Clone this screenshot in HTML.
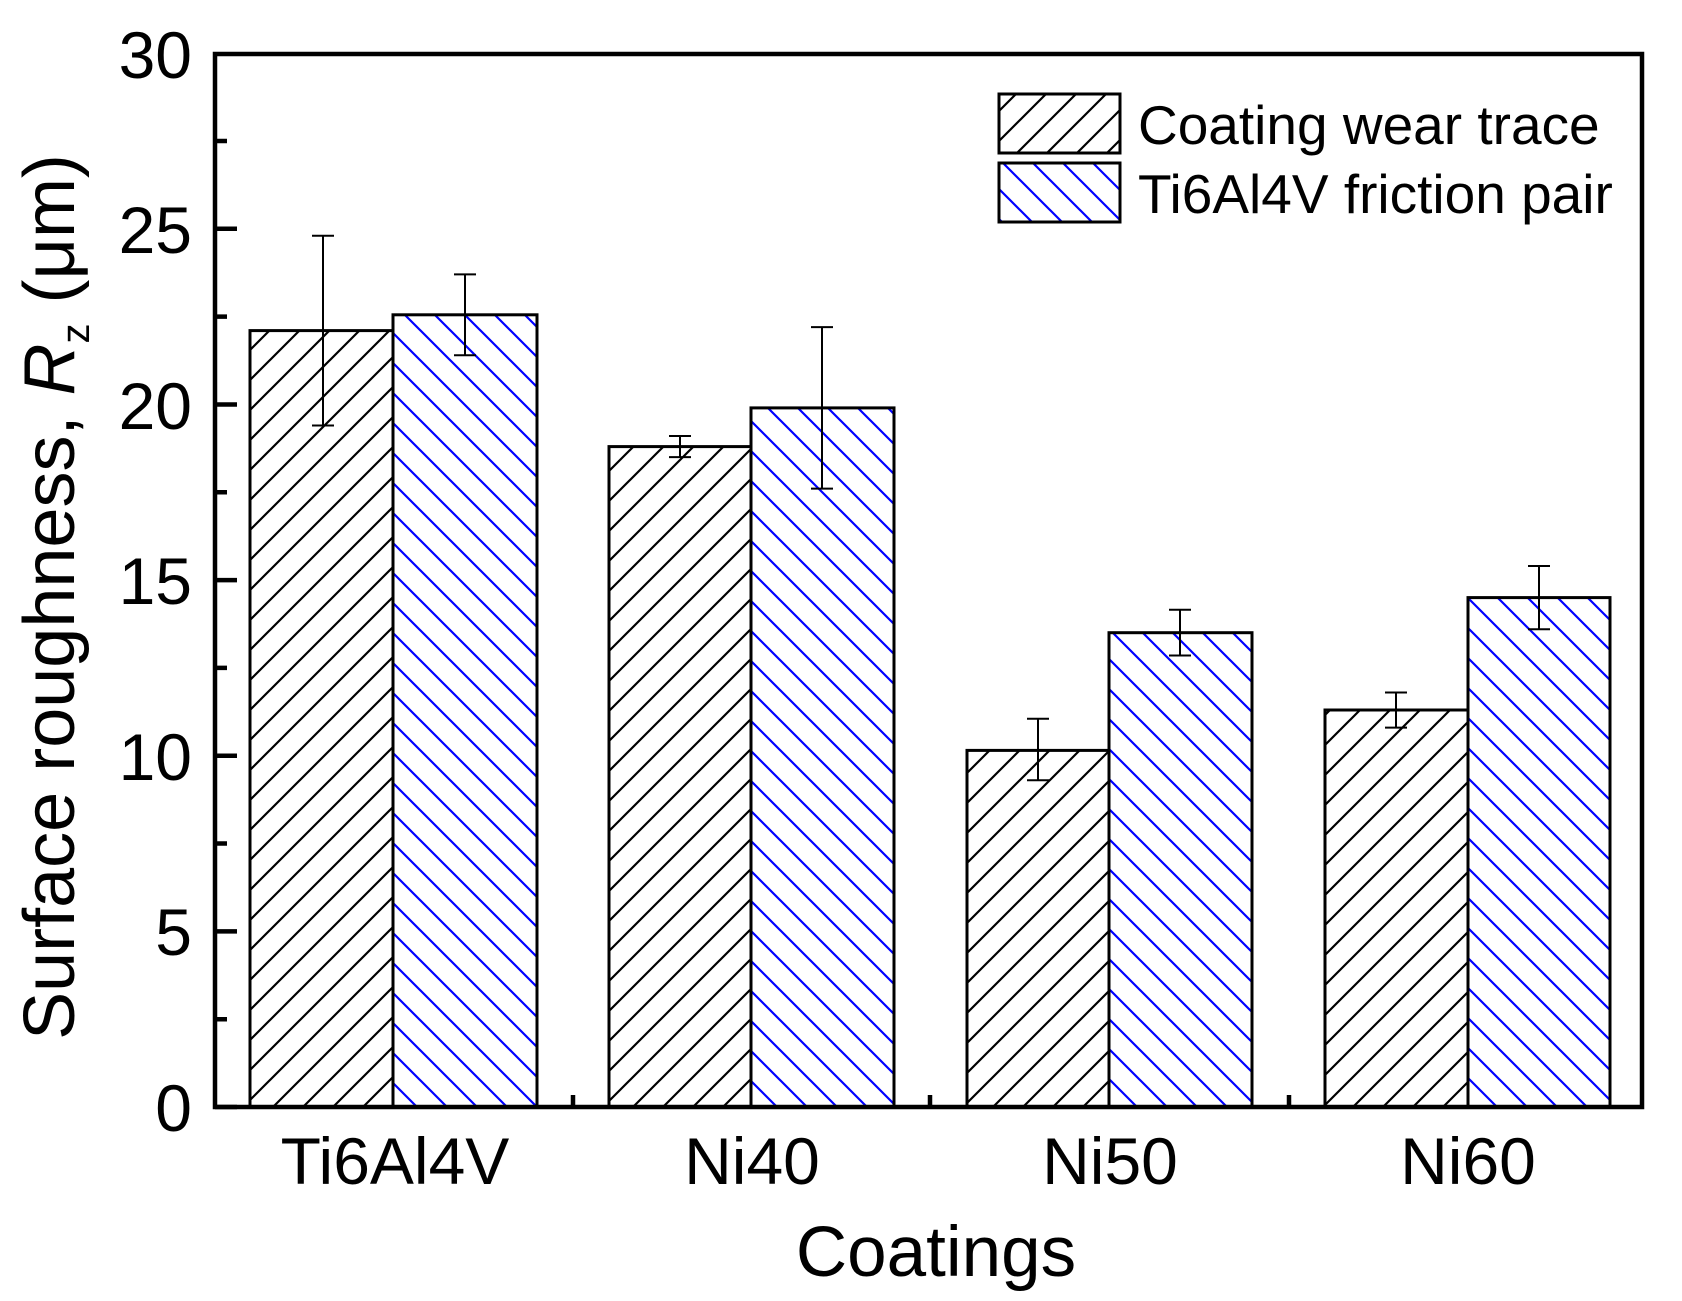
<!DOCTYPE html>
<html><head><meta charset="utf-8"><style>
body{margin:0;background:#fff}
svg{display:block}
text{font-family:"Liberation Sans",Arial,sans-serif;fill:#000}
</style></head><body>
<svg width="1682" height="1301" viewBox="0 0 1682 1301" xmlns="http://www.w3.org/2000/svg">
<defs>
<pattern id="pb" patternUnits="userSpaceOnUse" width="30" height="30">
<path d="M-5,35 L35,-5 M-5,5 L5,-5 M25,35 L35,25" stroke="#000" stroke-width="2.2"/>
</pattern>
<pattern id="pu" patternUnits="userSpaceOnUse" width="30" height="30">
<path d="M-5,-5 L35,35 M25,-5 L35,5 M-5,25 L5,35" stroke="#0000ff" stroke-width="2.2"/>
</pattern>
</defs>
<g stroke="#000" stroke-width="3">
<rect x="250" y="330.6" width="143" height="776.4" fill="url(#pb)"/>
<rect x="393" y="314.8" width="144" height="792.2" fill="url(#pu)"/>
<rect x="609" y="446.6" width="142" height="660.4" fill="url(#pb)"/>
<rect x="751" y="407.9" width="143" height="699.1" fill="url(#pu)"/>
<rect x="967" y="750.4" width="142" height="356.6" fill="url(#pb)"/>
<rect x="1109" y="632.7" width="143" height="474.3" fill="url(#pu)"/>
<rect x="1325" y="710.0" width="143" height="397" fill="url(#pb)"/>
<rect x="1468" y="597.6" width="142" height="509.4" fill="url(#pu)"/>
</g>
<g stroke="#000" stroke-width="2" fill="none">
<path d="M323,235.8V425.5M312,235.8h22M312,425.5h22"/>
<path d="M465,274.4V355.2M454,274.4h22M454,355.2h22"/>
<path d="M680,436.0V457.1M669,436.0h22M669,457.1h22"/>
<path d="M822,327.1V488.6M811,327.1h22M811,488.6h22"/>
<path d="M1038,718.8V780.3M1027,718.8h22M1027,780.3h22"/>
<path d="M1180,609.8V655.5M1169,609.8h22M1169,655.5h22"/>
<path d="M1396,692.5V727.6M1385,692.5h22M1385,727.6h22"/>
<path d="M1539,566.0V629.2M1528,566.0h22M1528,629.2h22"/>
</g>
<rect x="215" y="54" width="1427" height="1053" fill="none" stroke="#000" stroke-width="4.5"/>
<g stroke="#000" stroke-width="4.5">
<path d="M215,1107h22M215,931.4h22M215,755.7h22M215,580.1h22M215,404.5h22M215,228.8h22"/>
<path d="M215,1019.2h12M215,843.5h12M215,667.9h12M215,492.3h12M215,316.6h12M215,141h12"/>
<path d="M573,1107v-12M930,1107v-12M1289,1107v-12"/>
</g>
<g font-size="66" text-anchor="end">
<text x="192" y="1131">0</text>
<text x="192" y="955">5</text>
<text x="192" y="780">10</text>
<text x="192" y="604">15</text>
<text x="192" y="429">20</text>
<text x="192" y="253">25</text>
<text x="192" y="78">30</text>
</g>
<g font-size="66" text-anchor="middle">
<text x="395" y="1184">Ti6Al4V</text>
<text x="752" y="1184">Ni40</text>
<text x="1110" y="1184">Ni50</text>
<text x="1468" y="1184">Ni60</text>
<text x="936" y="1276" font-size="71">Coatings</text>
</g>
<text transform="translate(74,597) rotate(-90)" font-size="72" text-anchor="middle">Surface roughness, <tspan font-style="italic">R</tspan><tspan font-size="40" dy="15">z</tspan><tspan dy="-15"> (μm)</tspan></text>
<rect x="999" y="94" width="121" height="59" fill="url(#pb)" stroke="#000" stroke-width="3"/>
<rect x="999" y="163" width="121" height="59" fill="url(#pu)" stroke="#000" stroke-width="3"/>
<text x="1138" y="144" font-size="55">Coating wear trace</text>
<text x="1138" y="213" font-size="55">Ti6Al4V friction pair</text>
</svg>
</body></html>
